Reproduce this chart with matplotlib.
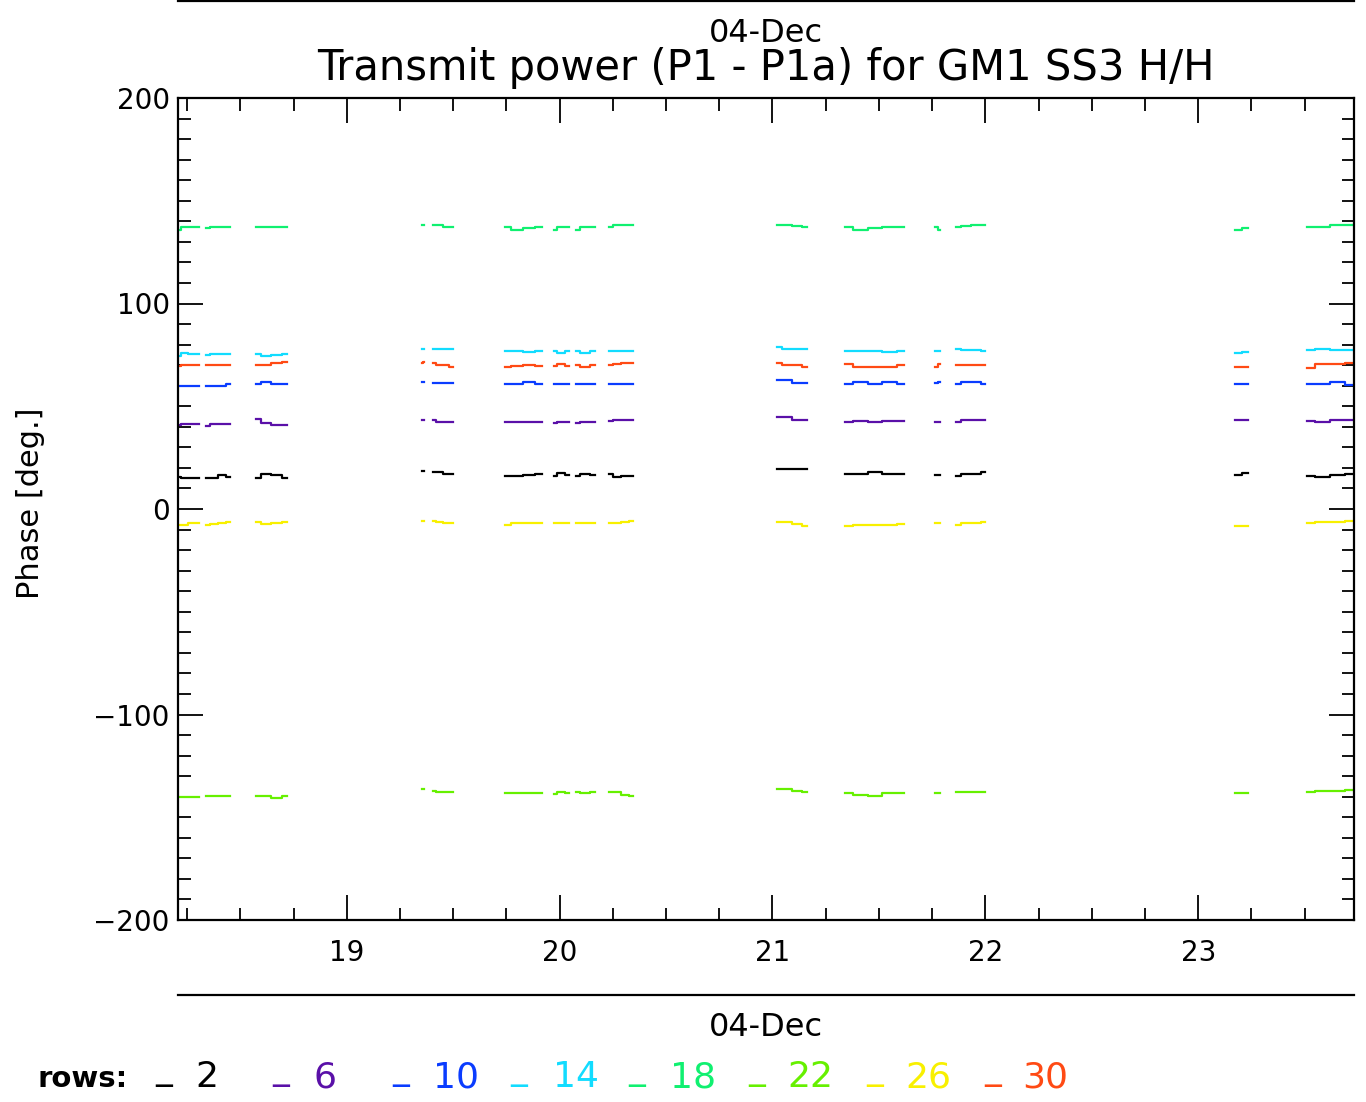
import numpy as np
import matplotlib
matplotlib.use('Agg')
import matplotlib.pyplot as plt
from matplotlib.lines import Line2D

# time segments (hours, 04-Dec) where data exist
seg_start = [18.207, 18.338, 18.573, 19.352, 19.404, 19.742, 19.972, 20.075,
             20.230, 21.019, 21.343, 21.765, 21.864, 23.174, 23.512]
seg_end = [18.305, 18.451, 18.718, 19.362, 19.498, 19.915, 20.042, 20.164,
           20.343, 21.164, 21.620, 21.789, 22.000, 23.235, 23.728]

rows = ['2', '6', '10', '14', '18', '22', '26', '30']
colors = ['#000000', '#5a10a8', '#0a3cff', '#12dcff', '#10f070', '#66f000', '#f8f000', '#ff4a14']

# phase values per segment for each row
row2 = [[15.5, 15.0, 15.0, 15.0], [15.0, 15.0, 16.5, 15.5], [15.0, 17.0, 16.5, 15.0], [18.5, 18.5],
        [18.0, 18.0, 17.0, 17.0], [16.0, 16.0, 16.5, 17.0], [16.0, 17.5, 16.5], [16.0, 17.0, 16.5],
        [17.0, 15.5, 16.0, 16.0], [19.5, 19.5, 19.5, 19.5], [17.0, 17.0, 18.0, 17.0, 17.0],
        [16.5, 16.5], [16.0, 17.0, 17.0, 18.0], [16.5, 17.5], [16.0, 15.5, 16.5, 17.0]]
row6 = [[41.0, 41.5, 41.5, 41.5], [40.5, 41.5, 41.5, 41.5], [44.0, 42.0, 41.0, 41.0], [43.5, 43.5],
        [43.5, 42.5, 42.5, 42.5], [42.5, 42.5, 42.5, 42.5], [42.0, 42.5, 42.5], [42.0, 42.5, 42.5],
        [43.0, 43.5, 43.5, 43.5], [45.0, 45.0, 43.5, 43.5], [42.5, 43.0, 42.5, 43.0, 43.0],
        [42.5, 42.5], [42.5, 43.5, 43.5, 43.5], [43.5, 43.5], [43.0, 42.5, 43.5, 43.5]]
row10 = [[60.0, 60.0, 60.0, 60.0], [60.0, 60.0, 60.0, 61.0], [61.0, 62.0, 61.0, 61.0], [62.0, 62.0],
         [61.5, 61.5, 61.5, 61.5], [61.0, 61.0, 62.0, 61.0], [61.0, 61.0, 61.0], [61.0, 61.0, 61.0],
         [61.0, 61.0, 61.0, 61.0], [63.0, 63.0, 61.5, 61.5], [61.0, 62.0, 61.0, 62.0, 61.0],
         [61.5, 62.0], [61.0, 62.0, 62.0, 61.0], [60.8, 60.8], [60.8, 60.8, 62.0, 60.3]]
row14 = [[74.5, 76.0, 75.5, 75.5], [75.0, 75.5, 75.5, 75.5], [75.5, 74.5, 75.0, 75.5], [78.0, 78.0],
         [78.0, 78.0, 78.0, 78.0], [77.0, 77.0, 76.5, 77.0], [77.0, 76.0, 77.0], [77.0, 76.0, 77.0],
         [77.0, 77.0, 77.0, 77.0], [79.0, 78.0, 78.0, 78.0], [77.0, 77.0, 77.0, 76.5, 77.0],
         [77.0, 77.0], [78.0, 77.5, 77.5, 77.0], [76.0, 76.6], [77.5, 78.0, 77.5, 77.5]]
row18 = [[136.0, 137.0, 137.0, 137.0], [136.5, 137.0, 137.0, 137.0], [137.0, 137.0, 137.0, 137.0],
         [138.2, 138.2], [138.2, 138.2, 137.0, 137.0], [137.0, 136.0, 136.5, 137.0], [136.0, 137.0, 137.0],
         [136.0, 137.0, 137.0], [137.0, 138.0, 138.2, 138.2], [138.2, 138.2, 137.5, 137.0],
         [137.0, 136.0, 136.5, 137.0, 137.0], [137.0, 136.0], [137.0, 137.5, 138.2, 138.2],
         [136.0, 136.5], [137.0, 137.0, 138.0, 138.2]]
row22 = [[-140.0, -140.0, -140.0, -140.0], [-139.7, -139.7, -139.7, -139.7], [-139.7, -139.7, -140.5, -139.7],
         [-136.4, -136.4], [-137.0, -137.5, -137.5, -137.5], [-138.4, -138.4, -138.4, -138.0],
         [-138.5, -137.5, -138.0], [-137.5, -138.0, -137.5], [-137.5, -137.5, -139.0, -139.5],
         [-136.4, -136.4, -137.0, -137.5], [-138.4, -139.0, -139.7, -138.4, -138.4], [-138.4, -138.4],
         [-137.5, -137.5, -137.5, -137.5], [-138.4, -138.4], [-137.5, -137.0, -137.0, -136.9]]
row26 = [[-8.0, -8.0, -7.0, -7.0], [-8.0, -7.5, -7.0, -6.5], [-6.5, -7.5, -7.0, -6.5], [-6.0, -6.0],
         [-6.0, -6.5, -7.0, -7.0], [-8.0, -7.0, -7.0, -7.0], [-7.0, -7.0, -7.0], [-7.0, -7.0, -7.0],
         [-7.0, -7.0, -6.5, -6.0], [-6.5, -6.5, -7.5, -8.3], [-8.3, -8.0, -8.0, -8.0, -7.5],
         [-7.0, -7.0], [-7.8, -7.0, -7.0, -6.2], [-8.3, -8.3], [-7.0, -6.5, -6.5, -6.0]]
row30 = [[69.5, 70.0, 70.0, 70.0], [70.0, 70.0, 70.0, 70.0], [70.0, 70.0, 71.0, 71.5], [71.0, 71.5],
         [71.0, 70.0, 70.0, 69.0], [69.0, 69.5, 70.0, 69.5], [69.5, 70.5, 69.5], [70.0, 69.0, 70.0],
         [70.0, 70.5, 71.0, 71.0], [71.0, 70.0, 70.0, 69.0], [70.5, 69.0, 69.0, 69.0, 70.0],
         [69.0, 70.5], [70.0, 70.0, 70.0, 70.0], [68.9, 68.9], [68.5, 70.5, 70.5, 71.0]]

series = [row2, row6, row10, row14, row18, row22, row26, row30]

xticks = [19, 20, 21, 22, 23]
yticks = [-200, -100, 0, 100, 200]

fig = plt.figure(figsize=(13.66, 11.02), dpi=100)
ax = fig.add_axes([178/1366, 1-920/1102, 1176/1366, 822/1102])

for vals, c in zip(series, colors):
    for s, e, v in zip(seg_start, seg_end, vals):
        t = np.linspace(s, e, len(v))
        ax.plot(t, v, color=c, lw=1.6, drawstyle='steps-mid')

ax.set_xlim(18.207, 23.732)
ax.set_ylim(-200, 200)
ax.set_xticks(xticks)
ax.set_yticks(yticks)
ax.set_xticks(np.arange(18.25, 23.75, 0.25), minor=True)
ax.set_yticks(np.arange(-200, 201, 10), minor=True)
ax.tick_params(which='both', direction='in', top=True, right=True, width=1.3, labelsize=20)
ax.tick_params(which='major', length=18)
ax.tick_params(which='minor', length=9)
ax.tick_params(axis='x', pad=14)
ax.tick_params(axis='y', pad=6)
for sp in ax.spines.values():
    sp.set_linewidth(1.6)

ax.set_ylabel('Phase [deg.]', fontsize=22)
ax.yaxis.set_label_coords(-0.113, 0.507)

fig.text(766/1366, 1-33/1102, '04-Dec', ha='center', va='center', fontsize=23)
fig.text(766/1366, 1-68/1102, 'Transmit power (P1 - P1a) for GM1 SS3 H/H', ha='center', va='center', fontsize=30)
fig.text(766/1366, 1-1027/1102, '04-Dec', ha='center', va='center', fontsize=23)

fig.add_artist(Line2D([178/1366, 1354/1366], [1-1/1102, 1-1/1102], color='black', lw=1.6))
fig.add_artist(Line2D([178/1366, 1354/1366], [1-995/1102, 1-995/1102], color='black', lw=1.6))

# legend row
fig.text(38/1366, 1-1087/1102, 'rows:', ha='left', va='baseline', fontsize=21, fontweight='bold')
bar_x = [155, 272, 392, 510, 628, 748, 866, 984]
num_x = [195, 313, 433, 553, 670, 787, 905, 1022]
for r, c, bx, nx in zip(rows, colors, bar_x, num_x):
    fig.text(bx/1366, 1-1079/1102, '_', ha='left', va='baseline', fontsize=24, color=c)
    fig.text(nx/1366, 1-1087/1102, r, ha='left', va='baseline', fontsize=26, color=c)

fig.savefig('out.png', dpi=100)
